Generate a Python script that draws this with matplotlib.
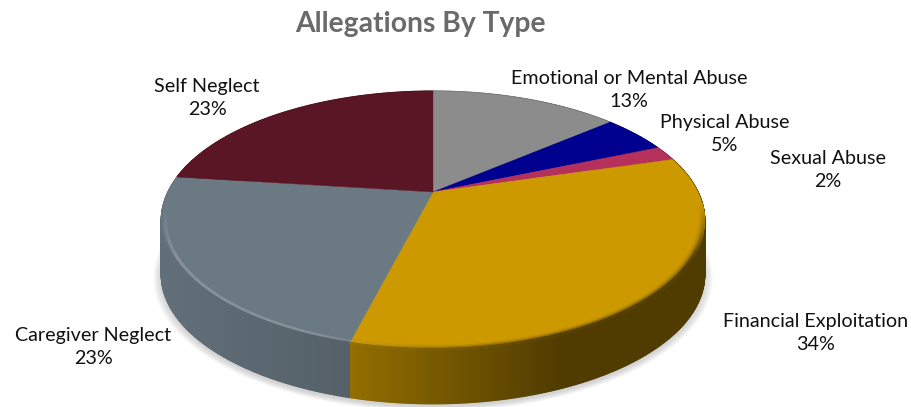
import numpy as np
import matplotlib
matplotlib.use("Agg")
import matplotlib.pyplot as plt
from matplotlib.collections import PolyCollection
from matplotlib.colors import to_rgb

labels = ["Emotional or Mental Abuse", "Physical Abuse", "Sexual Abuse",
          "Financial Exploitation", "Caregiver Neglect", "Self Neglect"]
values = [13, 5, 2, 34, 23, 23]
colors = ["#8C8C8C", "#00008F", "#B5305A", "#CC9900", "#6B7983", "#5A1624"]
label_pos = [(629, 90), (725, 134), (828, 170), (816, 333), (93, 347), (207, 98)]

# pie geometry, in pixels of the 912x407 picture
cx, cy = 433, 192
kx, ky, persp = 265, 123, 0.22
depth = 54


def project(theta, r=1.0):
    # theta clockwise from the top, far side of the pie is squeezed
    th = theta + 0.05 * np.sin(2 * theta) * (theta < np.pi / 2)
    sx = r * np.sin(th)
    sy = r * np.cos(th)
    den = 1 + persp * sy
    return cx + kx * sx / den, cy - ky * sy / den


def mix(a, b, t):
    return tuple((1 - t) * u + t * v for u, v in zip(a, b))


def wall_colour(name, x):
    # side of the pie gets darker going right
    c = np.array(to_rgb(name))
    t = np.clip((x - 165) / (560 - 165), 0, 1)
    if name == "#CC9900":
        t = np.clip((x - 350) / 210, 0, 1)
        return tuple(c * (0.72 - 0.33 * t))
    return tuple(c * (0.92 - 0.27 * t))


fractions = np.cumsum([0] + values) / sum(values)
angles = fractions * 2 * np.pi

fig = plt.figure(figsize=(9.12, 4.07), dpi=100)
ax = fig.add_axes([0, 0, 1, 1])
ax.set_xlim(0, 912)
ax.set_ylim(407, 0)
ax.axis("off")

# soft shadow under the pie
t_all = np.linspace(0, 2 * np.pi, 300)
sx, sy = project(t_all)
for grow in np.linspace(1.03, 1.0, 10):
    ax.fill(cx + (sx - cx) * grow, cy + (sy - cy) * grow + depth + 3, color="#707070",
            alpha=0.03, lw=0, zorder=1)

# side wall
for i, col in enumerate(colors):
    th = np.linspace(angles[i], angles[i + 1], max(4, int(values[i] * 8)))
    x, y = project(th)
    quads = []
    fc = []
    for j in range(len(th) - 1):
        quads.append([(x[j], y[j]), (x[j + 1], y[j + 1]),
                      (x[j + 1], y[j + 1] + depth), (x[j], y[j] + depth)])
        fc.append(wall_colour(col, (x[j] + x[j + 1]) / 2))
    ax.add_collection(PolyCollection(quads, facecolors=fc, edgecolors=fc, linewidths=1.0, zorder=2))

# top face
for i, col in enumerate(colors):
    th = np.linspace(angles[i], angles[i + 1], 80)
    x, y = project(th)
    ax.fill(np.r_[cx, x], np.r_[cy, y], color=col, lw=0.3, zorder=3)

# rounded edge between top and side
rings = np.linspace(0.97, 1.0, 6)
for i, col in enumerate(colors):
    th = np.linspace(angles[i], angles[i + 1], max(4, int(values[i] * 8)))
    for k in range(len(rings) - 1):
        x0, y0 = project(th, rings[k])
        x1, y1 = project(th, rings[k + 1])
        quads = []
        fc = []
        for j in range(len(th) - 1):
            fade = np.clip((-0.1 - np.cos(th[j])) / 0.4, 0, 1)
            if fade <= 0:
                continue
            xm = (x0[j] + x0[j + 1]) / 2
            t = k / (len(rings) - 2)
            base = to_rgb(col)
            lit = np.clip((430 - xm) / 120, 0, 1)
            shine = mix(base, (1, 1, 1), 0.18 if col == "#6B7983" else 0.1)
            edge = mix(base, wall_colour(col, xm), t ** 2)
            if 0.3 < t < 0.8:
                edge = mix(edge, shine, lit)
            edge = mix(base, edge, fade)
            quads.append([(x0[j], y0[j]), (x0[j + 1], y0[j + 1]), (x1[j + 1], y1[j + 1]), (x1[j], y1[j])])
            fc.append(edge)
        if quads:
            ax.add_collection(PolyCollection(quads, facecolors=fc, edgecolors=fc, linewidths=0.5, zorder=4))

for name, v, (px, py) in zip(labels, values, label_pos):
    ax.text(px, py, f"{name}\n{v}%", ha="center", va="center", fontsize=14.2, color="#111111",
            family="Lato", linespacing=1.4, zorder=5)

ax.text(420, 24, "Allegations By Type", ha="center", va="center", fontsize=20.3,
        fontweight="bold", color="#6A6A6A", family="Lato")

fig.savefig("out.png", dpi=100)
